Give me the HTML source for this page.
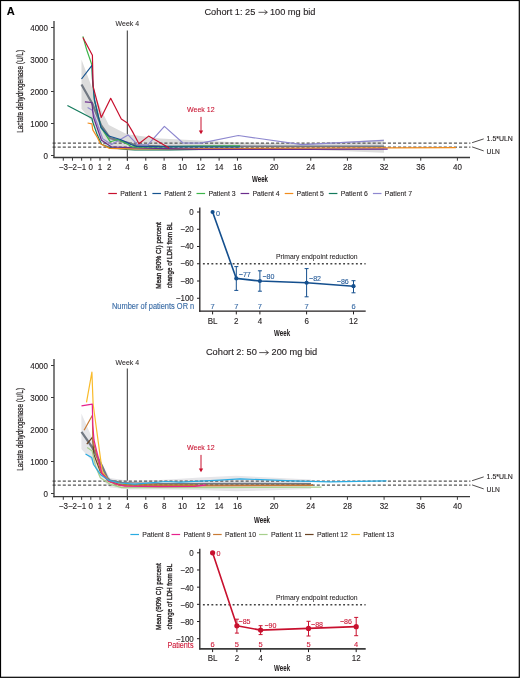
<!DOCTYPE html>
<html><head><meta charset="utf-8"><title>LDH figure</title>
<style>html,body{margin:0;padding:0;background:#fff;}svg{display:block;will-change:transform;}text{font-family:"Liberation Sans",sans-serif;}</style></head><body>
<svg width="520" height="678" viewBox="0 0 520 678">
<rect x="0" y="0" width="520" height="678" fill="#fff"/>
<text x="6.8" y="14.9" font-size="11" fill="#000" stroke="#000" stroke-width="0.1" textLength="8" lengthAdjust="spacingAndGlyphs" font-weight="bold" >A</text>
<text x="204.4" y="14.5" font-size="9" fill="#231f20" stroke="#231f20" stroke-width="0.12" textLength="51" lengthAdjust="spacingAndGlyphs" >Cohort 1: 25</text>
<text x="269.9" y="14.5" font-size="9" fill="#231f20" stroke="#231f20" stroke-width="0.12" textLength="45.6" lengthAdjust="spacingAndGlyphs" >100 mg bid</text>
<line x1="258.5" y1="12.3" x2="267" y2="12.3" stroke="#231f20" stroke-width="0.75" />
<polyline points="264.8,10.4 267.4,12.3 264.8,14.2" fill="none" stroke="#231f20" stroke-width="0.75" stroke-linejoin="round" stroke-linecap="round"/>
<text transform="translate(23.4,91.4) rotate(-90)" font-size="9.6" fill="#231f20" stroke="#231f20" stroke-width="0.25" text-anchor="middle" textLength="82.8" lengthAdjust="spacingAndGlyphs">Lactate dehydrogenase (U/L)</text>
<line x1="472.1" y1="142.7" x2="483.7" y2="138.9" stroke="#231f20" stroke-width="0.8" />
<line x1="472.1" y1="146.9" x2="483.7" y2="150.9" stroke="#231f20" stroke-width="0.8" />
<text x="486.6" y="140.8" font-size="7" fill="#231f20" stroke="#231f20" stroke-width="0.12" textLength="26.3" lengthAdjust="spacingAndGlyphs" >1.5*ULN</text>
<text x="486.6" y="154.2" font-size="7" fill="#231f20" stroke="#231f20" stroke-width="0.12" textLength="13.3" lengthAdjust="spacingAndGlyphs" >ULN</text>
<line x1="127.3" y1="30.5" x2="127.3" y2="160.6" stroke="#1a1a1a" stroke-width="0.9" />
<text x="127.3" y="25.9" font-size="7.0" fill="#231f20" stroke="#231f20" stroke-width="0.05" text-anchor="middle" textLength="23.4" lengthAdjust="spacingAndGlyphs" >Week 4</text>
<text x="187" y="112.4" font-size="7.6" fill="#c8102e" stroke="#c8102e" stroke-width="0.08" textLength="27.6" lengthAdjust="spacingAndGlyphs" >Week 12</text>
<line x1="201" y1="116.9" x2="201" y2="131.5" stroke="#c8102e" stroke-width="1" />
<polygon points="198.8,130.5 203.2,130.5 201,134.3" fill="#c8102e" />
<polygon points="81.5,59.6 92.5,89 101.5,110.5 108.8,125.1 126.9,134.2 160,138.5 200,140.5 240,142.5 300,143.6 340,142 384,139.5 384,152.7 340,151 300,149.6 240,150 160,150.5 130,150.5 110,149 101,142 91.6,121 81.5,108.8" fill="#dcdcdc" />
<line x1="52.6" y1="143" x2="470.4" y2="143" stroke="#555" stroke-width="1.25" stroke-dasharray="3.08 2"/>
<line x1="52.6" y1="147" x2="470.4" y2="147" stroke="#555" stroke-width="1.25" stroke-dasharray="3.08 2"/>
<polyline points="81.5,84.5 92.5,104 101,125.1 110.1,138.1 127,142.5 136,145.2" fill="none" stroke="#727983" stroke-width="2.2" stroke-linejoin="round" />
<polyline points="136,145.2 160,146 240,146.3 384,146.3" fill="none" stroke="#727983" stroke-width="1.4" stroke-linejoin="round" />
<polyline points="87.6,107.5 92.3,110.2 102.7,138.8 111.5,144.5 128.1,134.9 137.5,144.7 147.6,145.2 164.4,126.4 183,143 200.8,143.2 238.3,135.5 302,144.6 383.8,140.4" fill="none" stroke="#8e88cf" stroke-width="1.2" stroke-linejoin="round" />
<polyline points="67.4,105.5 91.9,118.2 92.8,122.1 96.7,133.4 101.5,144.2 109.6,147.6 127.3,149.5 135,150 170,149.8 200,149.3" fill="none" stroke="#137a5c" stroke-width="1.2" stroke-linejoin="round" />
<polyline points="87.6,123 91.9,123.8 92.8,129.9 97.5,137.7 100.4,143.8 109.6,148.4 135,148.9 240,148.5 384,147.9 456,147.7" fill="none" stroke="#f28c1c" stroke-width="1.2" stroke-linejoin="round" />
<polyline points="84.9,101.8 91.9,102.5 93.4,117 101.5,140.3 111.2,146.8 117.3,147.2 135,147.8 200,149.4 300,149.4 387.7,149.2" fill="none" stroke="#6b2d8c" stroke-width="1.2" stroke-linejoin="round" />
<polyline points="82.9,36.3 86.5,49.2 91.8,64.6 92.5,80 94.4,100 101,127.3 110.4,141.8 118.1,139.5 128.1,144.5 131.2,146.6 136,147.2 160,146.8 200,146 240,145.8" fill="none" stroke="#3db54a" stroke-width="1.2" stroke-linejoin="round" />
<polyline points="81.5,79 92.2,65.2 92.6,80 94.5,100 101,127.7 108.1,135.7 120.4,139.5 128.1,143 131,144.5 136.5,146.4 175,146.8 240,147" fill="none" stroke="#15538f" stroke-width="1.2" stroke-linejoin="round" />
<polyline points="82.9,37.5 92.4,55.3 93.1,86.3 101.2,117.4 110.7,98.3 121.3,119.1 127.4,123 132.5,131.6 138.9,143.75 148.6,136.1 169.2,148.1" fill="none" stroke="#c8102e" stroke-width="1.2" stroke-linejoin="round" />
<line x1="54" y1="21" x2="54" y2="158.1" stroke="#3a3a3a" stroke-width="1.3" />
<line x1="53.35" y1="157.5" x2="470" y2="157.5" stroke="#3a3a3a" stroke-width="1.3" />
<line x1="51" y1="155.5" x2="54" y2="155.5" stroke="#3a3a3a" stroke-width="1" />
<text x="48" y="158.6" font-size="8.6" fill="#231f20" stroke="#231f20" stroke-width="0.12" text-anchor="end" textLength="4.45" lengthAdjust="spacingAndGlyphs" >0</text>
<line x1="51" y1="123.5" x2="54" y2="123.5" stroke="#3a3a3a" stroke-width="1" />
<text x="48" y="126.6" font-size="8.6" fill="#231f20" stroke="#231f20" stroke-width="0.12" text-anchor="end" textLength="17.8" lengthAdjust="spacingAndGlyphs" >1000</text>
<line x1="51" y1="91.5" x2="54" y2="91.5" stroke="#3a3a3a" stroke-width="1" />
<text x="48" y="94.6" font-size="8.6" fill="#231f20" stroke="#231f20" stroke-width="0.12" text-anchor="end" textLength="17.8" lengthAdjust="spacingAndGlyphs" >2000</text>
<line x1="51" y1="59.5" x2="54" y2="59.5" stroke="#3a3a3a" stroke-width="1" />
<text x="48" y="62.6" font-size="8.6" fill="#231f20" stroke="#231f20" stroke-width="0.12" text-anchor="end" textLength="17.8" lengthAdjust="spacingAndGlyphs" >3000</text>
<line x1="51" y1="27.5" x2="54" y2="27.5" stroke="#3a3a3a" stroke-width="1" />
<text x="48" y="30.6" font-size="8.6" fill="#231f20" stroke="#231f20" stroke-width="0.12" text-anchor="end" textLength="17.8" lengthAdjust="spacingAndGlyphs" >4000</text>
<line x1="63.3" y1="157.5" x2="63.3" y2="160.7" stroke="#3a3a3a" stroke-width="1" />
<text x="63.3" y="169.9" font-size="8.6" fill="#231f20" stroke="#231f20" stroke-width="0.12" text-anchor="middle" textLength="9.12" lengthAdjust="spacingAndGlyphs" >−3</text>
<line x1="72.47" y1="157.5" x2="72.47" y2="160.7" stroke="#3a3a3a" stroke-width="1" />
<text x="72.47" y="169.9" font-size="8.6" fill="#231f20" stroke="#231f20" stroke-width="0.12" text-anchor="middle" textLength="9.12" lengthAdjust="spacingAndGlyphs" >−2</text>
<line x1="81.63" y1="157.5" x2="81.63" y2="160.7" stroke="#3a3a3a" stroke-width="1" />
<text x="81.63" y="169.9" font-size="8.6" fill="#231f20" stroke="#231f20" stroke-width="0.12" text-anchor="middle" textLength="9.12" lengthAdjust="spacingAndGlyphs" >−1</text>
<line x1="90.8" y1="157.5" x2="90.8" y2="160.7" stroke="#3a3a3a" stroke-width="1" />
<text x="90.8" y="169.9" font-size="8.6" fill="#231f20" stroke="#231f20" stroke-width="0.12" text-anchor="middle" textLength="4.45" lengthAdjust="spacingAndGlyphs" >0</text>
<line x1="99.97" y1="157.5" x2="99.97" y2="160.7" stroke="#3a3a3a" stroke-width="1" />
<text x="99.97" y="169.9" font-size="8.6" fill="#231f20" stroke="#231f20" stroke-width="0.12" text-anchor="middle" textLength="4.45" lengthAdjust="spacingAndGlyphs" >1</text>
<line x1="109.13" y1="157.5" x2="109.13" y2="160.7" stroke="#3a3a3a" stroke-width="1" />
<text x="109.13" y="169.9" font-size="8.6" fill="#231f20" stroke="#231f20" stroke-width="0.12" text-anchor="middle" textLength="4.45" lengthAdjust="spacingAndGlyphs" >2</text>
<line x1="127.46" y1="157.5" x2="127.46" y2="160.7" stroke="#3a3a3a" stroke-width="1" />
<text x="127.46" y="169.9" font-size="8.6" fill="#231f20" stroke="#231f20" stroke-width="0.12" text-anchor="middle" textLength="4.45" lengthAdjust="spacingAndGlyphs" >4</text>
<line x1="145.79" y1="157.5" x2="145.79" y2="160.7" stroke="#3a3a3a" stroke-width="1" />
<text x="145.79" y="169.9" font-size="8.6" fill="#231f20" stroke="#231f20" stroke-width="0.12" text-anchor="middle" textLength="4.45" lengthAdjust="spacingAndGlyphs" >6</text>
<line x1="164.12" y1="157.5" x2="164.12" y2="160.7" stroke="#3a3a3a" stroke-width="1" />
<text x="164.12" y="169.9" font-size="8.6" fill="#231f20" stroke="#231f20" stroke-width="0.12" text-anchor="middle" textLength="4.45" lengthAdjust="spacingAndGlyphs" >8</text>
<line x1="182.45" y1="157.5" x2="182.45" y2="160.7" stroke="#3a3a3a" stroke-width="1" />
<text x="182.45" y="169.9" font-size="8.6" fill="#231f20" stroke="#231f20" stroke-width="0.12" text-anchor="middle" textLength="8.9" lengthAdjust="spacingAndGlyphs" >10</text>
<line x1="200.78" y1="157.5" x2="200.78" y2="160.7" stroke="#3a3a3a" stroke-width="1" />
<text x="200.78" y="169.9" font-size="8.6" fill="#231f20" stroke="#231f20" stroke-width="0.12" text-anchor="middle" textLength="8.9" lengthAdjust="spacingAndGlyphs" >12</text>
<line x1="219.11" y1="157.5" x2="219.11" y2="160.7" stroke="#3a3a3a" stroke-width="1" />
<text x="219.11" y="169.9" font-size="8.6" fill="#231f20" stroke="#231f20" stroke-width="0.12" text-anchor="middle" textLength="8.9" lengthAdjust="spacingAndGlyphs" >14</text>
<line x1="237.44" y1="157.5" x2="237.44" y2="160.7" stroke="#3a3a3a" stroke-width="1" />
<text x="237.44" y="169.9" font-size="8.6" fill="#231f20" stroke="#231f20" stroke-width="0.12" text-anchor="middle" textLength="8.9" lengthAdjust="spacingAndGlyphs" >16</text>
<line x1="274.1" y1="157.5" x2="274.1" y2="160.7" stroke="#3a3a3a" stroke-width="1" />
<text x="274.1" y="169.9" font-size="8.6" fill="#231f20" stroke="#231f20" stroke-width="0.12" text-anchor="middle" textLength="8.9" lengthAdjust="spacingAndGlyphs" >20</text>
<line x1="310.76" y1="157.5" x2="310.76" y2="160.7" stroke="#3a3a3a" stroke-width="1" />
<text x="310.76" y="169.9" font-size="8.6" fill="#231f20" stroke="#231f20" stroke-width="0.12" text-anchor="middle" textLength="8.9" lengthAdjust="spacingAndGlyphs" >24</text>
<line x1="347.42" y1="157.5" x2="347.42" y2="160.7" stroke="#3a3a3a" stroke-width="1" />
<text x="347.42" y="169.9" font-size="8.6" fill="#231f20" stroke="#231f20" stroke-width="0.12" text-anchor="middle" textLength="8.9" lengthAdjust="spacingAndGlyphs" >28</text>
<line x1="384.08" y1="157.5" x2="384.08" y2="160.7" stroke="#3a3a3a" stroke-width="1" />
<text x="384.08" y="169.9" font-size="8.6" fill="#231f20" stroke="#231f20" stroke-width="0.12" text-anchor="middle" textLength="8.9" lengthAdjust="spacingAndGlyphs" >32</text>
<line x1="420.74" y1="157.5" x2="420.74" y2="160.7" stroke="#3a3a3a" stroke-width="1" />
<text x="420.74" y="169.9" font-size="8.6" fill="#231f20" stroke="#231f20" stroke-width="0.12" text-anchor="middle" textLength="8.9" lengthAdjust="spacingAndGlyphs" >36</text>
<line x1="457.4" y1="157.5" x2="457.4" y2="160.7" stroke="#3a3a3a" stroke-width="1" />
<text x="457.4" y="169.9" font-size="8.6" fill="#231f20" stroke="#231f20" stroke-width="0.12" text-anchor="middle" textLength="8.9" lengthAdjust="spacingAndGlyphs" >40</text>
<text x="252" y="181.5" font-size="9.6" fill="#231f20" stroke="#231f20" stroke-width="0.05" textLength="16" lengthAdjust="spacingAndGlyphs" font-weight="bold" >Week</text>
<line x1="108.3" y1="193.5" x2="116.9" y2="193.5" stroke="#c8102e" stroke-width="1.2" />
<text x="120.2" y="195.9" font-size="7.6" fill="#231f20" stroke="#231f20" stroke-width="0.1" textLength="27.2" lengthAdjust="spacingAndGlyphs" >Patient 1</text>
<line x1="152.4" y1="193.5" x2="161" y2="193.5" stroke="#15538f" stroke-width="1.2" />
<text x="164.3" y="195.9" font-size="7.6" fill="#231f20" stroke="#231f20" stroke-width="0.1" textLength="27.2" lengthAdjust="spacingAndGlyphs" >Patient 2</text>
<line x1="196.5" y1="193.5" x2="205.1" y2="193.5" stroke="#3db54a" stroke-width="1.2" />
<text x="208.4" y="195.9" font-size="7.6" fill="#231f20" stroke="#231f20" stroke-width="0.1" textLength="27.2" lengthAdjust="spacingAndGlyphs" >Patient 3</text>
<line x1="240.6" y1="193.5" x2="249.2" y2="193.5" stroke="#6b2d8c" stroke-width="1.2" />
<text x="252.5" y="195.9" font-size="7.6" fill="#231f20" stroke="#231f20" stroke-width="0.1" textLength="27.2" lengthAdjust="spacingAndGlyphs" >Patient 4</text>
<line x1="284.7" y1="193.5" x2="293.3" y2="193.5" stroke="#f28c1c" stroke-width="1.2" />
<text x="296.6" y="195.9" font-size="7.6" fill="#231f20" stroke="#231f20" stroke-width="0.1" textLength="27.2" lengthAdjust="spacingAndGlyphs" >Patient 5</text>
<line x1="328.8" y1="193.5" x2="337.4" y2="193.5" stroke="#137a5c" stroke-width="1.2" />
<text x="340.7" y="195.9" font-size="7.6" fill="#231f20" stroke="#231f20" stroke-width="0.1" textLength="27.2" lengthAdjust="spacingAndGlyphs" >Patient 6</text>
<line x1="372.9" y1="193.5" x2="381.5" y2="193.5" stroke="#8e88cf" stroke-width="1.2" />
<text x="384.8" y="195.9" font-size="7.6" fill="#231f20" stroke="#231f20" stroke-width="0.1" textLength="27.2" lengthAdjust="spacingAndGlyphs" >Patient 7</text>
<text x="205.9" y="355.2" font-size="9" fill="#231f20" stroke="#231f20" stroke-width="0.12" textLength="51" lengthAdjust="spacingAndGlyphs" >Cohort 2: 50</text>
<text x="271.6" y="355.2" font-size="9" fill="#231f20" stroke="#231f20" stroke-width="0.12" textLength="45.6" lengthAdjust="spacingAndGlyphs" >200 mg bid</text>
<line x1="259.2" y1="352.6" x2="268.1" y2="352.6" stroke="#231f20" stroke-width="0.75" />
<polyline points="265.9,350.7 268.5,352.6 265.9,354.5" fill="none" stroke="#231f20" stroke-width="0.75" stroke-linejoin="round" stroke-linecap="round"/>
<text transform="translate(23.4,429.4) rotate(-90)" font-size="9.6" fill="#231f20" stroke="#231f20" stroke-width="0.25" text-anchor="middle" textLength="82.8" lengthAdjust="spacingAndGlyphs">Lactate dehydrogenase (U/L)</text>
<line x1="472.1" y1="480.7" x2="483.7" y2="476.9" stroke="#231f20" stroke-width="0.8" />
<line x1="472.1" y1="484.9" x2="483.7" y2="488.9" stroke="#231f20" stroke-width="0.8" />
<text x="486.6" y="478.8" font-size="7" fill="#231f20" stroke="#231f20" stroke-width="0.12" textLength="26.3" lengthAdjust="spacingAndGlyphs" >1.5*ULN</text>
<text x="486.6" y="492.2" font-size="7" fill="#231f20" stroke="#231f20" stroke-width="0.12" textLength="13.3" lengthAdjust="spacingAndGlyphs" >ULN</text>
<line x1="127.3" y1="368.5" x2="127.3" y2="499.8" stroke="#1a1a1a" stroke-width="0.9" />
<text x="127.3" y="364.5" font-size="7.0" fill="#231f20" stroke="#231f20" stroke-width="0.05" text-anchor="middle" textLength="23.4" lengthAdjust="spacingAndGlyphs" >Week 4</text>
<text x="187" y="450.4" font-size="7.6" fill="#c8102e" stroke="#c8102e" stroke-width="0.08" textLength="27.6" lengthAdjust="spacingAndGlyphs" >Week 12</text>
<line x1="201" y1="454.9" x2="201" y2="469.5" stroke="#c8102e" stroke-width="1" />
<polygon points="198.8,468.5 203.2,468.5 201,472.3" fill="#c8102e" />
<polygon points="81.4,413.5 93,440 103,466 110,478 130,481 160,480 200,477.5 236,475.8 280,478 311,479.5 311,489 280,490 236,491.3 200,490 160,489.5 130,489.5 110,487.5 100,478 92,461 81.4,449" fill="#e6e6e9" />
<line x1="52.6" y1="481" x2="470.4" y2="481" stroke="#555" stroke-width="1.25" stroke-dasharray="3.08 2"/>
<line x1="52.6" y1="485" x2="470.4" y2="485" stroke="#555" stroke-width="1.25" stroke-dasharray="3.08 2"/>
<polyline points="81.5,431.8 92,447 102,466 107.2,477.8 110,480.5 120,482.5" fill="none" stroke="#727983" stroke-width="2.2" stroke-linejoin="round" />
<polyline points="120,482.5 160,483.5 240,483.4 311,483.6" fill="none" stroke="#727983" stroke-width="1.2" stroke-linejoin="round" />
<polyline points="86.5,402.4 91.9,372.1 93.1,404 102.3,471.6 109,481 125,484.6 160,485 196,485.2" fill="none" stroke="#f9bb2b" stroke-width="1.2" stroke-linejoin="round" />
<polyline points="86.8,444.2 92.6,437.1 93.8,454.3 100.5,472 108.5,481 120,484.8 200,485 313,485" fill="none" stroke="#6b4423" stroke-width="1.2" stroke-linejoin="round" />
<polyline points="87.2,447.4 92.2,451 95.5,466 100.3,477.7 110.5,484.4 121.5,487.6 200,487.6 260,487.4 321.5,487.2" fill="none" stroke="#a7cf8c" stroke-width="1.2" stroke-linejoin="round" />
<polyline points="84.1,430.3 92.4,415.2 92.8,440 100.8,472 108.5,481.5 120,485.6 200,485.8 313,485.4" fill="none" stroke="#c97a34" stroke-width="1.2" stroke-linejoin="round" />
<polyline points="81.5,405.8 92.3,404.1 92.8,425 94,440 101.9,473.4 109,481.3 118,484.5 125,486.2 160,486.6 195,486.4 206,484.8" fill="none" stroke="#e6228c" stroke-width="1.2" stroke-linejoin="round" />
<polyline points="85.5,453.9 91.7,457.4 93.5,464.5 101,475.1 109,480.4 119.3,483 135,484.2 165.8,481.5 180,482.1 220,480.2 240,478.9 300,481.2 330,481.8 386.5,480.8" fill="none" stroke="#29abe2" stroke-width="1.2" stroke-linejoin="round" />
<line x1="54" y1="359" x2="54" y2="497.2" stroke="#3a3a3a" stroke-width="1.3" />
<line x1="53.35" y1="496.6" x2="470" y2="496.6" stroke="#3a3a3a" stroke-width="1.3" />
<line x1="51" y1="493.5" x2="54" y2="493.5" stroke="#3a3a3a" stroke-width="1" />
<text x="48" y="496.6" font-size="8.6" fill="#231f20" stroke="#231f20" stroke-width="0.12" text-anchor="end" textLength="4.45" lengthAdjust="spacingAndGlyphs" >0</text>
<line x1="51" y1="461.5" x2="54" y2="461.5" stroke="#3a3a3a" stroke-width="1" />
<text x="48" y="464.6" font-size="8.6" fill="#231f20" stroke="#231f20" stroke-width="0.12" text-anchor="end" textLength="17.8" lengthAdjust="spacingAndGlyphs" >1000</text>
<line x1="51" y1="429.5" x2="54" y2="429.5" stroke="#3a3a3a" stroke-width="1" />
<text x="48" y="432.6" font-size="8.6" fill="#231f20" stroke="#231f20" stroke-width="0.12" text-anchor="end" textLength="17.8" lengthAdjust="spacingAndGlyphs" >2000</text>
<line x1="51" y1="397.5" x2="54" y2="397.5" stroke="#3a3a3a" stroke-width="1" />
<text x="48" y="400.6" font-size="8.6" fill="#231f20" stroke="#231f20" stroke-width="0.12" text-anchor="end" textLength="17.8" lengthAdjust="spacingAndGlyphs" >3000</text>
<line x1="51" y1="365.5" x2="54" y2="365.5" stroke="#3a3a3a" stroke-width="1" />
<text x="48" y="368.6" font-size="8.6" fill="#231f20" stroke="#231f20" stroke-width="0.12" text-anchor="end" textLength="17.8" lengthAdjust="spacingAndGlyphs" >4000</text>
<line x1="63.3" y1="496.6" x2="63.3" y2="499.8" stroke="#3a3a3a" stroke-width="1" />
<text x="63.3" y="508.7" font-size="8.6" fill="#231f20" stroke="#231f20" stroke-width="0.12" text-anchor="middle" textLength="9.12" lengthAdjust="spacingAndGlyphs" >−3</text>
<line x1="72.47" y1="496.6" x2="72.47" y2="499.8" stroke="#3a3a3a" stroke-width="1" />
<text x="72.47" y="508.7" font-size="8.6" fill="#231f20" stroke="#231f20" stroke-width="0.12" text-anchor="middle" textLength="9.12" lengthAdjust="spacingAndGlyphs" >−2</text>
<line x1="81.63" y1="496.6" x2="81.63" y2="499.8" stroke="#3a3a3a" stroke-width="1" />
<text x="81.63" y="508.7" font-size="8.6" fill="#231f20" stroke="#231f20" stroke-width="0.12" text-anchor="middle" textLength="9.12" lengthAdjust="spacingAndGlyphs" >−1</text>
<line x1="90.8" y1="496.6" x2="90.8" y2="499.8" stroke="#3a3a3a" stroke-width="1" />
<text x="90.8" y="508.7" font-size="8.6" fill="#231f20" stroke="#231f20" stroke-width="0.12" text-anchor="middle" textLength="4.45" lengthAdjust="spacingAndGlyphs" >0</text>
<line x1="99.97" y1="496.6" x2="99.97" y2="499.8" stroke="#3a3a3a" stroke-width="1" />
<text x="99.97" y="508.7" font-size="8.6" fill="#231f20" stroke="#231f20" stroke-width="0.12" text-anchor="middle" textLength="4.45" lengthAdjust="spacingAndGlyphs" >1</text>
<line x1="109.13" y1="496.6" x2="109.13" y2="499.8" stroke="#3a3a3a" stroke-width="1" />
<text x="109.13" y="508.7" font-size="8.6" fill="#231f20" stroke="#231f20" stroke-width="0.12" text-anchor="middle" textLength="4.45" lengthAdjust="spacingAndGlyphs" >2</text>
<line x1="127.46" y1="496.6" x2="127.46" y2="499.8" stroke="#3a3a3a" stroke-width="1" />
<text x="127.46" y="508.7" font-size="8.6" fill="#231f20" stroke="#231f20" stroke-width="0.12" text-anchor="middle" textLength="4.45" lengthAdjust="spacingAndGlyphs" >4</text>
<line x1="145.79" y1="496.6" x2="145.79" y2="499.8" stroke="#3a3a3a" stroke-width="1" />
<text x="145.79" y="508.7" font-size="8.6" fill="#231f20" stroke="#231f20" stroke-width="0.12" text-anchor="middle" textLength="4.45" lengthAdjust="spacingAndGlyphs" >6</text>
<line x1="164.12" y1="496.6" x2="164.12" y2="499.8" stroke="#3a3a3a" stroke-width="1" />
<text x="164.12" y="508.7" font-size="8.6" fill="#231f20" stroke="#231f20" stroke-width="0.12" text-anchor="middle" textLength="4.45" lengthAdjust="spacingAndGlyphs" >8</text>
<line x1="182.45" y1="496.6" x2="182.45" y2="499.8" stroke="#3a3a3a" stroke-width="1" />
<text x="182.45" y="508.7" font-size="8.6" fill="#231f20" stroke="#231f20" stroke-width="0.12" text-anchor="middle" textLength="8.9" lengthAdjust="spacingAndGlyphs" >10</text>
<line x1="200.78" y1="496.6" x2="200.78" y2="499.8" stroke="#3a3a3a" stroke-width="1" />
<text x="200.78" y="508.7" font-size="8.6" fill="#231f20" stroke="#231f20" stroke-width="0.12" text-anchor="middle" textLength="8.9" lengthAdjust="spacingAndGlyphs" >12</text>
<line x1="219.11" y1="496.6" x2="219.11" y2="499.8" stroke="#3a3a3a" stroke-width="1" />
<text x="219.11" y="508.7" font-size="8.6" fill="#231f20" stroke="#231f20" stroke-width="0.12" text-anchor="middle" textLength="8.9" lengthAdjust="spacingAndGlyphs" >14</text>
<line x1="237.44" y1="496.6" x2="237.44" y2="499.8" stroke="#3a3a3a" stroke-width="1" />
<text x="237.44" y="508.7" font-size="8.6" fill="#231f20" stroke="#231f20" stroke-width="0.12" text-anchor="middle" textLength="8.9" lengthAdjust="spacingAndGlyphs" >16</text>
<line x1="274.1" y1="496.6" x2="274.1" y2="499.8" stroke="#3a3a3a" stroke-width="1" />
<text x="274.1" y="508.7" font-size="8.6" fill="#231f20" stroke="#231f20" stroke-width="0.12" text-anchor="middle" textLength="8.9" lengthAdjust="spacingAndGlyphs" >20</text>
<line x1="310.76" y1="496.6" x2="310.76" y2="499.8" stroke="#3a3a3a" stroke-width="1" />
<text x="310.76" y="508.7" font-size="8.6" fill="#231f20" stroke="#231f20" stroke-width="0.12" text-anchor="middle" textLength="8.9" lengthAdjust="spacingAndGlyphs" >24</text>
<line x1="347.42" y1="496.6" x2="347.42" y2="499.8" stroke="#3a3a3a" stroke-width="1" />
<text x="347.42" y="508.7" font-size="8.6" fill="#231f20" stroke="#231f20" stroke-width="0.12" text-anchor="middle" textLength="8.9" lengthAdjust="spacingAndGlyphs" >28</text>
<line x1="384.08" y1="496.6" x2="384.08" y2="499.8" stroke="#3a3a3a" stroke-width="1" />
<text x="384.08" y="508.7" font-size="8.6" fill="#231f20" stroke="#231f20" stroke-width="0.12" text-anchor="middle" textLength="8.9" lengthAdjust="spacingAndGlyphs" >32</text>
<line x1="420.74" y1="496.6" x2="420.74" y2="499.8" stroke="#3a3a3a" stroke-width="1" />
<text x="420.74" y="508.7" font-size="8.6" fill="#231f20" stroke="#231f20" stroke-width="0.12" text-anchor="middle" textLength="8.9" lengthAdjust="spacingAndGlyphs" >36</text>
<line x1="457.4" y1="496.6" x2="457.4" y2="499.8" stroke="#3a3a3a" stroke-width="1" />
<text x="457.4" y="508.7" font-size="8.6" fill="#231f20" stroke="#231f20" stroke-width="0.12" text-anchor="middle" textLength="8.9" lengthAdjust="spacingAndGlyphs" >40</text>
<text x="254" y="522.7" font-size="9.6" fill="#231f20" stroke="#231f20" stroke-width="0.05" textLength="16" lengthAdjust="spacingAndGlyphs" font-weight="bold" >Week</text>
<line x1="130.4" y1="534.5" x2="139" y2="534.5" stroke="#29abe2" stroke-width="1.2" />
<text x="142.3" y="536.9" font-size="7.6" fill="#231f20" stroke="#231f20" stroke-width="0.1" textLength="27.2" lengthAdjust="spacingAndGlyphs" >Patient 8</text>
<line x1="171.5" y1="534.5" x2="180.1" y2="534.5" stroke="#e6228c" stroke-width="1.2" />
<text x="183.4" y="536.9" font-size="7.6" fill="#231f20" stroke="#231f20" stroke-width="0.1" textLength="27.2" lengthAdjust="spacingAndGlyphs" >Patient 9</text>
<line x1="213.1" y1="534.5" x2="221.7" y2="534.5" stroke="#c97a34" stroke-width="1.2" />
<text x="225" y="536.9" font-size="7.6" fill="#231f20" stroke="#231f20" stroke-width="0.1" textLength="31" lengthAdjust="spacingAndGlyphs" >Patient 10</text>
<line x1="259" y1="534.5" x2="267.6" y2="534.5" stroke="#a7cf8c" stroke-width="1.2" />
<text x="270.9" y="536.9" font-size="7.6" fill="#231f20" stroke="#231f20" stroke-width="0.1" textLength="31" lengthAdjust="spacingAndGlyphs" >Patient 11</text>
<line x1="305" y1="534.5" x2="313.6" y2="534.5" stroke="#6b4423" stroke-width="1.2" />
<text x="316.9" y="536.9" font-size="7.6" fill="#231f20" stroke="#231f20" stroke-width="0.1" textLength="31" lengthAdjust="spacingAndGlyphs" >Patient 12</text>
<line x1="351.3" y1="534.5" x2="359.9" y2="534.5" stroke="#f9bb2b" stroke-width="1.2" />
<text x="363.2" y="536.9" font-size="7.6" fill="#231f20" stroke="#231f20" stroke-width="0.1" textLength="31" lengthAdjust="spacingAndGlyphs" >Patient 13</text>
<line x1="199.8" y1="207.4" x2="199.8" y2="311.8" stroke="#231f20" stroke-width="1.3" />
<line x1="199.15" y1="311.2" x2="365.7" y2="311.2" stroke="#231f20" stroke-width="1.3" />
<line x1="197" y1="212" x2="199.8" y2="212" stroke="#231f20" stroke-width="1" />
<text x="193.8" y="214.6" font-size="8.6" fill="#231f20" stroke="#231f20" stroke-width="0.12" text-anchor="end" textLength="4.45" lengthAdjust="spacingAndGlyphs" >0</text>
<line x1="197" y1="229.25" x2="199.8" y2="229.25" stroke="#231f20" stroke-width="1" />
<text x="193.8" y="231.85" font-size="8.6" fill="#231f20" stroke="#231f20" stroke-width="0.12" text-anchor="end" textLength="13.57" lengthAdjust="spacingAndGlyphs" >−20</text>
<line x1="197" y1="246.5" x2="199.8" y2="246.5" stroke="#231f20" stroke-width="1" />
<text x="193.8" y="249.1" font-size="8.6" fill="#231f20" stroke="#231f20" stroke-width="0.12" text-anchor="end" textLength="13.57" lengthAdjust="spacingAndGlyphs" >−40</text>
<line x1="197" y1="263.75" x2="199.8" y2="263.75" stroke="#231f20" stroke-width="1" />
<text x="193.8" y="266.35" font-size="8.6" fill="#231f20" stroke="#231f20" stroke-width="0.12" text-anchor="end" textLength="13.57" lengthAdjust="spacingAndGlyphs" >−60</text>
<line x1="197" y1="281" x2="199.8" y2="281" stroke="#231f20" stroke-width="1" />
<text x="193.8" y="283.6" font-size="8.6" fill="#231f20" stroke="#231f20" stroke-width="0.12" text-anchor="end" textLength="13.57" lengthAdjust="spacingAndGlyphs" >−80</text>
<line x1="197" y1="298.25" x2="199.8" y2="298.25" stroke="#231f20" stroke-width="1" />
<text x="193.8" y="300.85" font-size="8.6" fill="#231f20" stroke="#231f20" stroke-width="0.12" text-anchor="end" textLength="18.02" lengthAdjust="spacingAndGlyphs" >−100</text>
<line x1="212.6" y1="311.2" x2="212.6" y2="314.4" stroke="#231f20" stroke-width="1" />
<text x="212.6" y="324" font-size="8.6" fill="#231f20" stroke="#231f20" stroke-width="0.12" text-anchor="middle" textLength="9.79" lengthAdjust="spacingAndGlyphs" >BL</text>
<line x1="236.3" y1="311.2" x2="236.3" y2="314.4" stroke="#231f20" stroke-width="1" />
<text x="236.3" y="324" font-size="8.6" fill="#231f20" stroke="#231f20" stroke-width="0.12" text-anchor="middle" textLength="4.45" lengthAdjust="spacingAndGlyphs" >2</text>
<line x1="259.9" y1="311.2" x2="259.9" y2="314.4" stroke="#231f20" stroke-width="1" />
<text x="259.9" y="324" font-size="8.6" fill="#231f20" stroke="#231f20" stroke-width="0.12" text-anchor="middle" textLength="4.45" lengthAdjust="spacingAndGlyphs" >4</text>
<line x1="306.6" y1="311.2" x2="306.6" y2="314.4" stroke="#231f20" stroke-width="1" />
<text x="306.6" y="324" font-size="8.6" fill="#231f20" stroke="#231f20" stroke-width="0.12" text-anchor="middle" textLength="4.45" lengthAdjust="spacingAndGlyphs" >6</text>
<line x1="353.5" y1="311.2" x2="353.5" y2="314.4" stroke="#231f20" stroke-width="1" />
<text x="353.5" y="324" font-size="8.6" fill="#231f20" stroke="#231f20" stroke-width="0.12" text-anchor="middle" textLength="8.9" lengthAdjust="spacingAndGlyphs" >12</text>
<text x="274.1" y="335.7" font-size="9.6" fill="#231f20" stroke="#231f20" stroke-width="0.05" textLength="16" lengthAdjust="spacingAndGlyphs" font-weight="bold" >Week</text>
<text transform="translate(160.9,255.4) rotate(-90)" font-size="7.7" fill="#231f20" stroke="#231f20" stroke-width="0.35" text-anchor="middle" textLength="66.6" lengthAdjust="spacingAndGlyphs">Mean (90% CI) percent</text>
<text transform="translate(172.4,255.4) rotate(-90)" font-size="7.7" fill="#231f20" stroke="#231f20" stroke-width="0.35" text-anchor="middle" textLength="65.6" lengthAdjust="spacingAndGlyphs">change of LDH from BL</text>
<line x1="202.9" y1="263.75" x2="365.6" y2="263.75" stroke="#444" stroke-width="1.4" stroke-dasharray="1.9 2.35"/>
<text x="276" y="259.1" font-size="7.5" fill="#231f20" stroke="#231f20" stroke-width="0.06" textLength="81.6" lengthAdjust="spacingAndGlyphs" >Primary endpoint reduction</text>
<polyline points="212.6,212 236.3,278.41 259.9,281 306.6,282.73 353.5,286.18" fill="none" stroke="#144f8e" stroke-width="1.6" stroke-linejoin="round" />
<line x1="236.3" y1="266.6" x2="236.3" y2="290.4" stroke="#144f8e" stroke-width="1" />
<line x1="234.3" y1="266.6" x2="238.3" y2="266.6" stroke="#144f8e" stroke-width="1" />
<line x1="234.3" y1="290.4" x2="238.3" y2="290.4" stroke="#144f8e" stroke-width="1" />
<line x1="259.9" y1="270.8" x2="259.9" y2="291.2" stroke="#144f8e" stroke-width="1" />
<line x1="257.9" y1="270.8" x2="261.9" y2="270.8" stroke="#144f8e" stroke-width="1" />
<line x1="257.9" y1="291.2" x2="261.9" y2="291.2" stroke="#144f8e" stroke-width="1" />
<line x1="306.6" y1="268.6" x2="306.6" y2="296.8" stroke="#144f8e" stroke-width="1" />
<line x1="304.6" y1="268.6" x2="308.6" y2="268.6" stroke="#144f8e" stroke-width="1" />
<line x1="304.6" y1="296.8" x2="308.6" y2="296.8" stroke="#144f8e" stroke-width="1" />
<line x1="353.5" y1="280.7" x2="353.5" y2="292.8" stroke="#144f8e" stroke-width="1" />
<line x1="351.5" y1="280.7" x2="355.5" y2="280.7" stroke="#144f8e" stroke-width="1" />
<line x1="351.5" y1="292.8" x2="355.5" y2="292.8" stroke="#144f8e" stroke-width="1" />
<circle cx="212.6" cy="212" r="2.1" fill="#144f8e"/>
<circle cx="236.3" cy="278.41" r="2.1" fill="#144f8e"/>
<circle cx="259.9" cy="281" r="2.1" fill="#144f8e"/>
<circle cx="306.6" cy="282.73" r="2.1" fill="#144f8e"/>
<circle cx="353.5" cy="286.18" r="2.1" fill="#144f8e"/>
<text x="216.1" y="215.7" font-size="7.2" fill="#285d9a" stroke="#285d9a" stroke-width="0.12" >0</text>
<text x="238.8" y="277" font-size="7.2" fill="#285d9a" stroke="#285d9a" stroke-width="0.12" textLength="12" lengthAdjust="spacingAndGlyphs" >−77</text>
<text x="262.4" y="279.4" font-size="7.2" fill="#285d9a" stroke="#285d9a" stroke-width="0.12" textLength="12" lengthAdjust="spacingAndGlyphs" >−80</text>
<text x="309" y="280.7" font-size="7.2" fill="#285d9a" stroke="#285d9a" stroke-width="0.12" textLength="12" lengthAdjust="spacingAndGlyphs" >−82</text>
<text x="336.8" y="284.2" font-size="7.2" fill="#285d9a" stroke="#285d9a" stroke-width="0.12" textLength="12" lengthAdjust="spacingAndGlyphs" >−86</text>
<text x="212.6" y="309.2" font-size="7.5" fill="#3a6ca6" stroke="#3a6ca6" stroke-width="0.12" text-anchor="middle" >7</text>
<text x="236.3" y="309.2" font-size="7.5" fill="#3a6ca6" stroke="#3a6ca6" stroke-width="0.12" text-anchor="middle" >7</text>
<text x="259.9" y="309.2" font-size="7.5" fill="#3a6ca6" stroke="#3a6ca6" stroke-width="0.12" text-anchor="middle" >7</text>
<text x="306.6" y="309.2" font-size="7.5" fill="#3a6ca6" stroke="#3a6ca6" stroke-width="0.12" text-anchor="middle" >7</text>
<text x="353.5" y="309.2" font-size="7.5" fill="#3a6ca6" stroke="#3a6ca6" stroke-width="0.12" text-anchor="middle" >6</text>
<text x="112" y="309" font-size="8.5" fill="#3a6ca6" stroke="#3a6ca6" stroke-width="0.14" textLength="82.2" lengthAdjust="spacingAndGlyphs" >Number of patients OR n</text>
<line x1="199.8" y1="548.8" x2="199.8" y2="649.5" stroke="#231f20" stroke-width="1.3" />
<line x1="199.15" y1="648.9" x2="365.7" y2="648.9" stroke="#3a3a3a" stroke-width="1.9" />
<line x1="197" y1="552.8" x2="199.8" y2="552.8" stroke="#231f20" stroke-width="1" />
<text x="193.8" y="556.2" font-size="8.6" fill="#231f20" stroke="#231f20" stroke-width="0.12" text-anchor="end" textLength="4.45" lengthAdjust="spacingAndGlyphs" >0</text>
<line x1="197" y1="569.98" x2="199.8" y2="569.98" stroke="#231f20" stroke-width="1" />
<text x="193.8" y="573.38" font-size="8.6" fill="#231f20" stroke="#231f20" stroke-width="0.12" text-anchor="end" textLength="13.57" lengthAdjust="spacingAndGlyphs" >−20</text>
<line x1="197" y1="587.16" x2="199.8" y2="587.16" stroke="#231f20" stroke-width="1" />
<text x="193.8" y="590.56" font-size="8.6" fill="#231f20" stroke="#231f20" stroke-width="0.12" text-anchor="end" textLength="13.57" lengthAdjust="spacingAndGlyphs" >−40</text>
<line x1="197" y1="604.34" x2="199.8" y2="604.34" stroke="#231f20" stroke-width="1" />
<text x="193.8" y="607.74" font-size="8.6" fill="#231f20" stroke="#231f20" stroke-width="0.12" text-anchor="end" textLength="13.57" lengthAdjust="spacingAndGlyphs" >−60</text>
<line x1="197" y1="621.52" x2="199.8" y2="621.52" stroke="#231f20" stroke-width="1" />
<text x="193.8" y="624.92" font-size="8.6" fill="#231f20" stroke="#231f20" stroke-width="0.12" text-anchor="end" textLength="13.57" lengthAdjust="spacingAndGlyphs" >−80</text>
<line x1="197" y1="638.7" x2="199.8" y2="638.7" stroke="#231f20" stroke-width="1" />
<text x="193.8" y="642.1" font-size="8.6" fill="#231f20" stroke="#231f20" stroke-width="0.12" text-anchor="end" textLength="18.02" lengthAdjust="spacingAndGlyphs" >−100</text>
<line x1="212.6" y1="648.9" x2="212.6" y2="652.1" stroke="#231f20" stroke-width="1" />
<text x="212.6" y="660.9" font-size="8.6" fill="#231f20" stroke="#231f20" stroke-width="0.12" text-anchor="middle" textLength="9.79" lengthAdjust="spacingAndGlyphs" >BL</text>
<line x1="236.9" y1="648.9" x2="236.9" y2="652.1" stroke="#231f20" stroke-width="1" />
<text x="236.9" y="660.9" font-size="8.6" fill="#231f20" stroke="#231f20" stroke-width="0.12" text-anchor="middle" textLength="4.45" lengthAdjust="spacingAndGlyphs" >2</text>
<line x1="260.6" y1="648.9" x2="260.6" y2="652.1" stroke="#231f20" stroke-width="1" />
<text x="260.6" y="660.9" font-size="8.6" fill="#231f20" stroke="#231f20" stroke-width="0.12" text-anchor="middle" textLength="4.45" lengthAdjust="spacingAndGlyphs" >4</text>
<line x1="308.5" y1="648.9" x2="308.5" y2="652.1" stroke="#231f20" stroke-width="1" />
<text x="308.5" y="660.9" font-size="8.6" fill="#231f20" stroke="#231f20" stroke-width="0.12" text-anchor="middle" textLength="4.45" lengthAdjust="spacingAndGlyphs" >8</text>
<line x1="356.2" y1="648.9" x2="356.2" y2="652.1" stroke="#231f20" stroke-width="1" />
<text x="356.2" y="660.9" font-size="8.6" fill="#231f20" stroke="#231f20" stroke-width="0.12" text-anchor="middle" textLength="8.9" lengthAdjust="spacingAndGlyphs" >12</text>
<text x="274.1" y="671.2" font-size="9.6" fill="#231f20" stroke="#231f20" stroke-width="0.05" textLength="16" lengthAdjust="spacingAndGlyphs" font-weight="bold" >Week</text>
<text transform="translate(160.9,596.6) rotate(-90)" font-size="7.7" fill="#231f20" stroke="#231f20" stroke-width="0.35" text-anchor="middle" textLength="66.6" lengthAdjust="spacingAndGlyphs">Mean (90% CI) percent</text>
<text transform="translate(172.4,596.6) rotate(-90)" font-size="7.7" fill="#231f20" stroke="#231f20" stroke-width="0.35" text-anchor="middle" textLength="65.6" lengthAdjust="spacingAndGlyphs">change of LDH from BL</text>
<line x1="202.9" y1="604.69" x2="365.6" y2="604.69" stroke="#444" stroke-width="1.4" stroke-dasharray="1.9 2.35"/>
<text x="276" y="600.4" font-size="7.5" fill="#231f20" stroke="#231f20" stroke-width="0.06" textLength="81.6" lengthAdjust="spacingAndGlyphs" >Primary endpoint reduction</text>
<polyline points="212.6,552.8 236.9,625.81 260.6,630.11 308.5,628.39 356.2,626.67" fill="none" stroke="#c8102e" stroke-width="1.6" stroke-linejoin="round" />
<line x1="236.9" y1="619.2" x2="236.9" y2="633.1" stroke="#c8102e" stroke-width="1" />
<line x1="234.9" y1="619.2" x2="238.9" y2="619.2" stroke="#c8102e" stroke-width="1" />
<line x1="234.9" y1="633.1" x2="238.9" y2="633.1" stroke="#c8102e" stroke-width="1" />
<line x1="260.6" y1="625.7" x2="260.6" y2="634.6" stroke="#c8102e" stroke-width="1" />
<line x1="258.6" y1="625.7" x2="262.6" y2="625.7" stroke="#c8102e" stroke-width="1" />
<line x1="258.6" y1="634.6" x2="262.6" y2="634.6" stroke="#c8102e" stroke-width="1" />
<line x1="308.5" y1="621.3" x2="308.5" y2="636" stroke="#c8102e" stroke-width="1" />
<line x1="306.5" y1="621.3" x2="310.5" y2="621.3" stroke="#c8102e" stroke-width="1" />
<line x1="306.5" y1="636" x2="310.5" y2="636" stroke="#c8102e" stroke-width="1" />
<line x1="356.2" y1="617.4" x2="356.2" y2="635.7" stroke="#c8102e" stroke-width="1" />
<line x1="354.2" y1="617.4" x2="358.2" y2="617.4" stroke="#c8102e" stroke-width="1" />
<line x1="354.2" y1="635.7" x2="358.2" y2="635.7" stroke="#c8102e" stroke-width="1" />
<circle cx="212.6" cy="552.8" r="2.6" fill="#c8102e"/>
<circle cx="236.9" cy="625.81" r="2.6" fill="#c8102e"/>
<circle cx="260.6" cy="630.11" r="2.6" fill="#c8102e"/>
<circle cx="308.5" cy="628.39" r="2.6" fill="#c8102e"/>
<circle cx="356.2" cy="626.67" r="2.6" fill="#c8102e"/>
<text x="216.6" y="556.2" font-size="7.2" fill="#cc1a38" stroke="#cc1a38" stroke-width="0.12" >0</text>
<text x="238.5" y="624.4" font-size="7.2" fill="#cc1a38" stroke="#cc1a38" stroke-width="0.12" textLength="12" lengthAdjust="spacingAndGlyphs" >−85</text>
<text x="264.4" y="628" font-size="7.2" fill="#cc1a38" stroke="#cc1a38" stroke-width="0.12" textLength="12" lengthAdjust="spacingAndGlyphs" >−90</text>
<text x="311" y="626.5" font-size="7.2" fill="#cc1a38" stroke="#cc1a38" stroke-width="0.12" textLength="12" lengthAdjust="spacingAndGlyphs" >−88</text>
<text x="339.9" y="623.9" font-size="7.2" fill="#cc1a38" stroke="#cc1a38" stroke-width="0.12" textLength="12" lengthAdjust="spacingAndGlyphs" >−86</text>
<text x="212.6" y="647.2" font-size="7.5" fill="#d0203e" stroke="#d0203e" stroke-width="0.12" text-anchor="middle" >6</text>
<text x="236.9" y="647.2" font-size="7.5" fill="#d0203e" stroke="#d0203e" stroke-width="0.12" text-anchor="middle" >5</text>
<text x="260.6" y="647.2" font-size="7.5" fill="#d0203e" stroke="#d0203e" stroke-width="0.12" text-anchor="middle" >5</text>
<text x="308.5" y="647.2" font-size="7.5" fill="#d0203e" stroke="#d0203e" stroke-width="0.12" text-anchor="middle" >5</text>
<text x="356.2" y="647.2" font-size="7.5" fill="#d0203e" stroke="#d0203e" stroke-width="0.12" text-anchor="middle" >4</text>
<text x="167.4" y="647.7" font-size="8.5" fill="#d0203e" stroke="#d0203e" stroke-width="0.14" textLength="26.1" lengthAdjust="spacingAndGlyphs" >Patients</text>
<rect x="0.5" y="0.5" width="518.8" height="676.8" fill="none" stroke="#000" stroke-width="1.2"/>
</svg></body></html>
